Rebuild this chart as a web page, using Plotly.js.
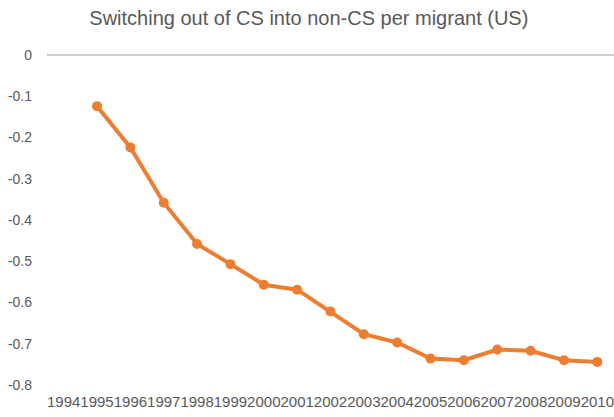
<!DOCTYPE html>
<html>
<head>
<meta charset="utf-8">
<script src="https://cdn.plot.ly/plotly-3.0.1.min.js"></script>
<style>html,body{margin:0;padding:0;background:#fff;}#chart{width:614px;height:417px;}</style>
</head>
<body>
<div id="chart"></div>
<script>
const years = ["1994","1995","1996","1997","1998","1999","2000","2001","2002","2003","2004","2005","2006","2007","2008","2009","2010"];
const switching = [null,-0.124,-0.224,-0.358,-0.458,-0.507,-0.557,-0.569,-0.622,-0.677,-0.697,-0.736,-0.740,-0.714,-0.717,-0.740,-0.744];
const yTickVals = [0,-0.1,-0.2,-0.3,-0.4,-0.5,-0.6,-0.7,-0.8];
const yTickText = ["0","-0.1","-0.2","-0.3","-0.4","-0.5","-0.6","-0.7","-0.8"];

const trace = {
  x: years, y: switching, type: 'scatter', mode: 'lines+markers',
  line: {color: '#ED7D31', width: 4},
  marker: {color: '#ED7D31', size: 10},
  connectgaps: false, hoverinfo: 'skip'
};
const layout = {
  width: 614, height: 417,
  margin: {l: 47, r: 0, t: 55, b: 32},
  paper_bgcolor: '#fff', plot_bgcolor: '#fff',
  showlegend: false,
  font: {family: 'Liberation Sans, Arial, sans-serif', color: '#595959', size: 13},
  title: {text: 'Switching out of CS into non-CS per migrant (US)', x: 0.503, xanchor: 'center', y: 0.957, yanchor: 'middle',
          font: {size: 20, color: '#595959', family: 'Liberation Sans, Arial, sans-serif'}},
  xaxis: {type: 'category', range: [-0.5, 16.5], showgrid: false, zeroline: false, showline: false,
          ticks: '', tickangle: 0, tickfont: {size: 15, color: '#595959'}, ticklabelstandoff: 6, fixedrange: true},
  yaxis: {range: [-0.8, 0], tickvals: yTickVals, ticktext: yTickText, showgrid: false,
          zeroline: true, zerolinecolor: '#CBCBCB', zerolinewidth: 1.5, showline: false,
          ticks: '', tickfont: {size: 14, color: '#595959'}, ticklabelstandoff: 14, fixedrange: true}
};
Plotly.newPlot('chart', [trace], layout, {displayModeBar: false, staticPlot: true});
</script>
</body>
</html>
